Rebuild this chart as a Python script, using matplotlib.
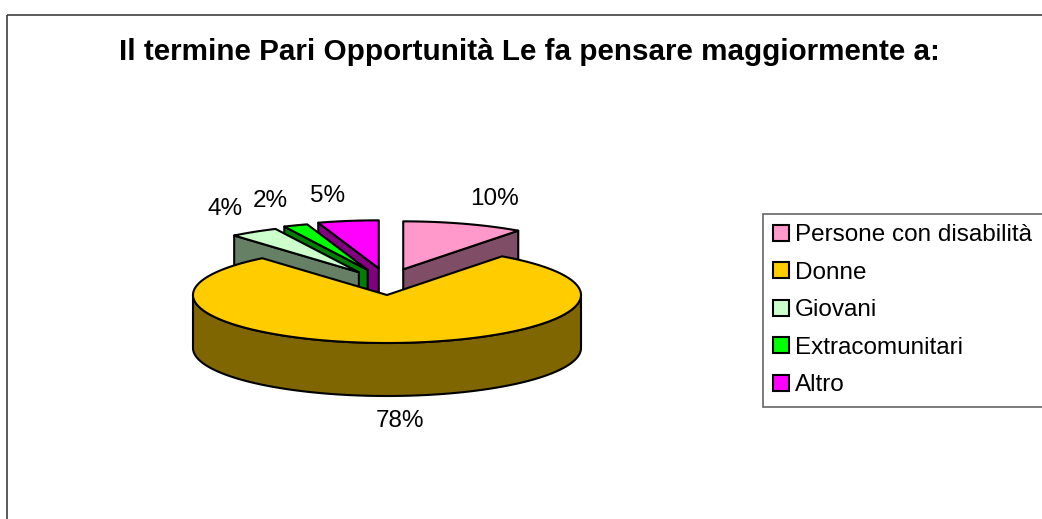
import numpy as np
import matplotlib
matplotlib.use('Agg')
import matplotlib.pyplot as plt
from matplotlib.patches import Polygon, Rectangle, Patch
from matplotlib.colors import to_rgb

# ---------------- data ----------------
categories = ['Persone con disabilità', 'Donne', 'Giovani', 'Extracomunitari', 'Altro']
values = [10, 78, 4, 2, 5]
pct_labels = ['10%', '78%', '4%', '2%', '5%']
colors = ['#FF99CC', '#FFCC00', '#CCFFCC', '#00FF00', '#FF00FF']
explode = [1.0, 0.0, 1.0, 1.0, 1.0]
title = 'Il termine Pari Opportunità Le fa pensare maggiormente a:'

# ---------------- layout (pixel space) ----------------
W, H = 1042, 519
plt.rcParams['font.family'] = ['Liberation Sans', 'DejaVu Sans']
fig = plt.figure(figsize=(W / 100, H / 100), dpi=100)
ax = fig.add_axes([0, 0, 1, 1])
ax.set_xlim(0, W)
ax.set_ylim(H, 0)
ax.axis('off')

CX, CY = 387, 295        # pie centre (top face)
RA, RB = 194, 48         # top ellipse semi-axes
DEPTH = 53               # pie thickness
EX_X, EX_Y = 52, 27      # explode displacement
LAB_X, LAB_Y = 215, 62   # label distance
LW = 1.5

# outer chart frame
ax.add_patch(Rectangle((7, 15), 1100, 600, fill=False, edgecolor='#404040',
                       linewidth=1.2, zorder=0))

ax.text(529.5, 60, title, ha='center', va='baseline', fontsize=21.3,
        fontweight='bold', color='black')


def dark(c):
    return tuple(v * 0.5 for v in to_rgb(c))


def arc(cx, cy, t1, t2, dy=0.0):
    n = max(2, int(abs(t2 - t1) / 1.0) + 2)
    r = np.radians(np.linspace(t1, t2, n))
    return np.column_stack([cx + RA * np.sin(r), cy - RB * np.cos(r) + dy])


def pnt(cx, cy, t, dy=0.0):
    r = np.radians(t)
    return np.array([cx + RA * np.sin(r), cy - RB * np.cos(r) + dy])


total = float(sum(values))
starts = np.concatenate([[0.0], np.cumsum(values)[:-1]]) / total * 360.0
spans = np.array(values) / total * 360.0
ends = starts + spans
mids = starts + spans / 2

# painter's order: back slices first
order = sorted(range(len(values)), key=lambda i: -np.cos(np.radians(mids[i])))

z = 1
for i in order:
    t1, t2, m = starts[i], ends[i], mids[i]
    mr = np.radians(m)
    cx = CX + explode[i] * EX_X * np.sin(mr)
    cy = CY - explode[i] * EX_Y * np.cos(mr)
    col = colors[i]
    side = dark(col)
    kw = dict(edgecolor='black', linewidth=LW, joinstyle='round')
    # outer curved side (front half only)
    lo, hi = max(t1, 90), min(t2, 270)
    if hi > lo:
        top = arc(cx, cy, lo, hi)
        bot = arc(cx, cy, hi, lo, DEPTH)
        ax.add_patch(Polygon(np.vstack([top, bot]), closed=True,
                             facecolor=side, zorder=z, **kw))
        z += 1
    v = np.array([cx, cy])
    vd = v + [0, DEPTH]
    # radial faces
    if np.sin(np.radians(t1)) < -1e-6:
        p = pnt(cx, cy, t1)
        ax.add_patch(Polygon([v, p, p + [0, DEPTH], vd], closed=True,
                             facecolor=side, zorder=z, **kw))
        z += 1
    if np.sin(np.radians(t2)) > 1e-6:
        p = pnt(cx, cy, t2)
        ax.add_patch(Polygon([v, p, p + [0, DEPTH], vd], closed=True,
                             facecolor=side, zorder=z, **kw))
        z += 1
    # top face
    ax.add_patch(Polygon(np.vstack([v, arc(cx, cy, t1, t2)]), closed=True,
                         facecolor=col, zorder=z, **kw))
    z += 1

# percentage labels
renderer = fig.canvas.get_renderer()
for i in range(len(values)):
    mr = np.radians(mids[i])
    s, c = np.sin(mr), np.cos(mr)
    cx = CX + explode[i] * EX_X * s
    cy = CY - explode[i] * EX_Y * c
    x = cx + LAB_X * s
    y = cy - LAB_Y * c + (DEPTH if c < 0 else 0)
    t = ax.text(x, y, pct_labels[i], ha='center',
                va='bottom' if c > 0 else 'top', fontsize=17.5, zorder=50)
    w = t.get_window_extent(renderer).width
    t.set_x(x + w / 2 * np.clip(8 * s, -1, 1))

# legend
handles = [Patch(facecolor=col, edgecolor='black', linewidth=1.5) for col in colors]
leg = fig.legend(handles, categories, loc='upper left',
                 bbox_to_anchor=(763 / W, 1 - 214 / H, (1100 - 763) / W, 0.0),
                 mode='expand', fontsize=17.5, frameon=True, fancybox=False,
                 borderpad=0.42, labelspacing=0.64, handlelength=0.65,
                 handleheight=0.65, handletextpad=0.25, borderaxespad=0.0)
leg.get_frame().set_edgecolor('#404040')
leg.get_frame().set_linewidth(1.2)

fig.savefig('out.png', dpi=100)
